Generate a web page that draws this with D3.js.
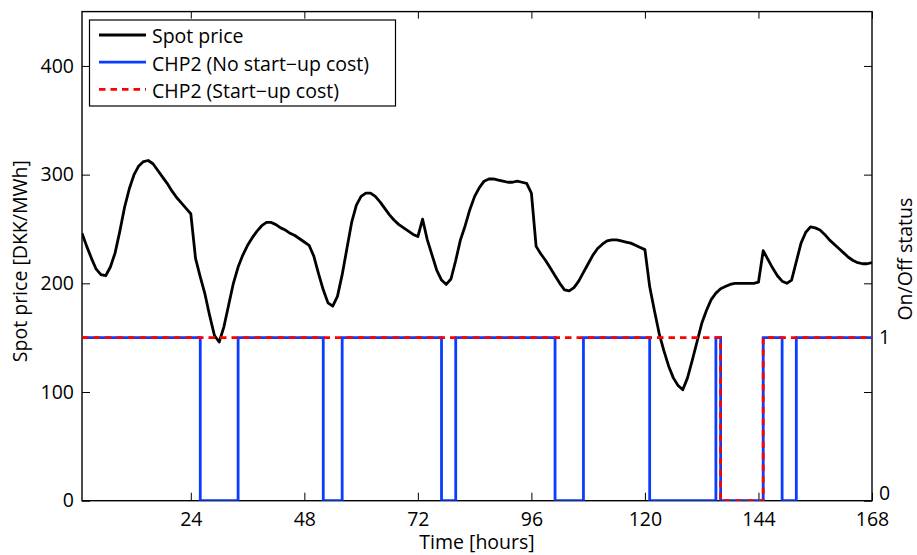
<!DOCTYPE html>
<html>
<head>
<meta charset="utf-8">
<script src="https://cdn.jsdelivr.net/npm/d3@7"></script>
<style>
  html, body { margin: 0; padding: 0; background: #fff; }
  svg { display: block; }
  text { font-family: "Open Sans", "Noto Sans", sans-serif; fill: #000; }
</style>
</head>
<body>
<svg id="chart" width="917" height="555"></svg>
<script>
// ---- data ----
const hours = d3.range(1, 169);
const spotPrice = [
  246, 234, 223, 213, 208, 207, 215, 228, 248, 270, 287, 300, 308, 312, 313, 310, 304, 298, 292, 285, 279, 274, 269, 264,
  223, 206, 190, 170, 152, 146, 160, 180, 200, 215, 226, 235, 242, 248, 253, 256, 256, 254, 251, 249, 246, 244, 241, 238,
  235, 225, 209, 194, 182, 179, 188, 208, 232, 256, 272, 280, 283, 283, 280, 275, 269, 263, 258, 254, 251, 248, 245, 243,
  259, 240, 226, 212, 203, 199, 204, 221, 240, 253, 268, 280, 288, 294, 296, 296, 295, 294, 293, 293, 294, 293, 292, 283,
  234, 227, 221, 214, 207, 200, 194, 193, 196, 202, 210, 218, 226, 232, 236, 239, 240, 240, 239, 238, 237, 235, 233, 231,
  197, 175, 154, 138, 124, 113, 106, 102, 113, 129, 146, 163, 175, 185, 191, 195, 197, 199, 200, 200, 200, 200, 200, 201,
  230, 222, 214, 207, 202, 200, 203, 220, 237, 247, 252, 251, 249, 245, 240, 236, 232, 228, 224, 221, 219, 218, 218, 219
];
const chp2NoStartup = [
  1,1,1,1,1,1,1,1,1,1,1,1,1,1,1,1,1,1,1,1,1,1,1,1,
  1,0,0,0,0,0,0,0,0,1,1,1,1,1,1,1,1,1,1,1,1,1,1,1,
  1,1,1,0,0,0,0,1,1,1,1,1,1,1,1,1,1,1,1,1,1,1,1,1,
  1,1,1,1,0,0,0,1,1,1,1,1,1,1,1,1,1,1,1,1,1,1,1,1,
  1,1,1,1,0,0,0,0,0,0,1,1,1,1,1,1,1,1,1,1,1,1,1,1,
  0,0,0,0,0,0,0,0,0,0,0,0,0,0,1,0,0,0,0,0,0,0,0,0,
  1,1,1,1,0,0,0,1,1,1,1,1,1,1,1,1,1,1,1,1,1,1,1,1
];
const chp2Startup = [
  1,1,1,1,1,1,1,1,1,1,1,1,1,1,1,1,1,1,1,1,1,1,1,1,
  1,1,1,1,1,1,1,1,1,1,1,1,1,1,1,1,1,1,1,1,1,1,1,1,
  1,1,1,1,1,1,1,1,1,1,1,1,1,1,1,1,1,1,1,1,1,1,1,1,
  1,1,1,1,1,1,1,1,1,1,1,1,1,1,1,1,1,1,1,1,1,1,1,1,
  1,1,1,1,1,1,1,1,1,1,1,1,1,1,1,1,1,1,1,1,1,1,1,1,
  1,1,1,1,1,1,1,1,1,1,1,1,1,1,1,0,0,0,0,0,0,0,0,0,
  1,1,1,1,1,1,1,1,1,1,1,1,1,1,1,1,1,1,1,1,1,1,1,1
];
const xTicks = [24, 48, 72, 96, 120, 144, 168];
const yTicks = [0, 100, 200, 300, 400];
const y2Ticks = [0, 1];
const legendLabels = ["Spot price", "CHP2 (No start\u2212up cost)", "CHP2 (Start\u2212up cost)"];

// ---- layout ----
const L = 82, R = 872, T = 11.6, B = 500.7;
const FS = 19.5;
const svg = d3.select("#chart");

const x = d3.scaleLinear().domain([1, 168]).range([L, R]);
const y = d3.scaleLinear().domain([0, 450]).range([B, T]);
const y2 = d3.scaleLinear().domain([0, 3]).range([B, T]);

svg.append("defs").append("clipPath").attr("id", "clip")
  .append("rect").attr("x", L).attr("y", T).attr("width", R - L).attr("height", B - T);

// axes
function styleAxis(g) {
  g.selectAll("path.domain").remove();
  g.selectAll(".tick line").attr("stroke", "#000").attr("stroke-width", 1);
  g.selectAll(".tick text").attr("font-size", FS).attr("font-family", "Open Sans");
}
svg.append("g").attr("transform", `translate(0,${B})`)
  .call(d3.axisBottom(x).tickValues(xTicks).tickSizeInner(-8).tickSizeOuter(0).tickPadding(11))
  .call(styleAxis);
svg.append("g").attr("transform", `translate(0,${T})`)
  .call(d3.axisTop(x).tickValues(xTicks).tickSizeInner(-7).tickSizeOuter(0).tickFormat(""))
  .call(styleAxis);
svg.append("g").attr("transform", `translate(${L},0)`)
  .call(d3.axisLeft(y).tickValues(yTicks).tickSizeInner(-8).tickSizeOuter(0).tickPadding(8))
  .call(styleAxis);
svg.append("g").attr("transform", `translate(${R},0)`)
  .call(d3.axisRight(y).tickValues(yTicks.slice(1)).tickSizeInner(-8).tickSizeOuter(0).tickFormat(""))
  .call(styleAxis);
const rAxis = svg.append("g").attr("transform", `translate(${R},0)`)
  .call(d3.axisRight(y2).tickValues(y2Ticks).tickSizeInner(-8).tickSizeOuter(0).tickPadding(7).tickFormat(d3.format("d")))
  .call(styleAxis);
// lift the right-hand "0" a little so it does not run into "168"
rAxis.selectAll(".tick text").filter(d => d === 0).attr("dy", "-0.05em");

// frame
svg.append("rect").attr("x", L).attr("y", T).attr("width", R - L).attr("height", B - T)
  .attr("fill", "none").attr("stroke", "#000").attr("stroke-width", 1.4);

// series
const plot = svg.append("g").attr("clip-path", "url(#clip)");
const spotLine = d3.line().x((d, i) => x(hours[i])).y(d => y(d));
const stairLine = d3.line().curve(d3.curveStepAfter).x((d, i) => x(hours[i])).y(d => y2(d));

const BLUE = "#0a3dff", RED = "#ff0000";
plot.append("path").datum(spotPrice).attr("d", spotLine)
  .attr("fill", "none").attr("stroke", "#000").attr("stroke-width", 2.8).attr("stroke-linejoin", "round");
plot.append("path").datum(chp2NoStartup).attr("d", stairLine)
  .attr("fill", "none").attr("stroke", BLUE).attr("stroke-width", 2.8);
plot.append("path").datum(chp2Startup).attr("d", stairLine)
  .attr("fill", "none").attr("stroke", RED).attr("stroke-width", 2.8).attr("stroke-dasharray", "6.5,5");

// axis labels
svg.append("text").attr("x", (L + R) / 2).attr("y", 549).attr("text-anchor", "middle")
  .attr("font-size", FS).text("Time [hours]");
svg.append("text").attr("transform", `translate(27,${(T + B) / 2 + 5}) rotate(-90)`).attr("text-anchor", "middle")
  .attr("font-size", FS).text("Spot price [DKK/MWh]");
svg.append("text").attr("transform", `translate(912,${(T + B) / 2 + 3}) rotate(-90)`).attr("text-anchor", "middle")
  .attr("font-size", FS).text("On/Off status");

// legend
const lg = svg.append("g");
lg.append("rect").attr("x", 89.5).attr("y", 20).attr("width", 306).attr("height", 86)
  .attr("fill", "#fff").attr("stroke", "#000").attr("stroke-width", 1.2);
const legendStyles = [
  { stroke: "#000", dash: null },
  { stroke: BLUE, dash: null },
  { stroke: RED, dash: "6.5,5" }
];
legendLabels.forEach((lab, i) => {
  const cy = 35 + i * 27.2;
  lg.append("line").attr("x1", 99).attr("x2", 146).attr("y1", cy).attr("y2", cy)
    .attr("stroke", legendStyles[i].stroke).attr("stroke-width", 2.8)
    .attr("stroke-dasharray", legendStyles[i].dash);
  lg.append("text").attr("x", 152).attr("y", cy + 8.3).attr("font-size", FS).text(lab);
});
</script>
</body>
</html>
